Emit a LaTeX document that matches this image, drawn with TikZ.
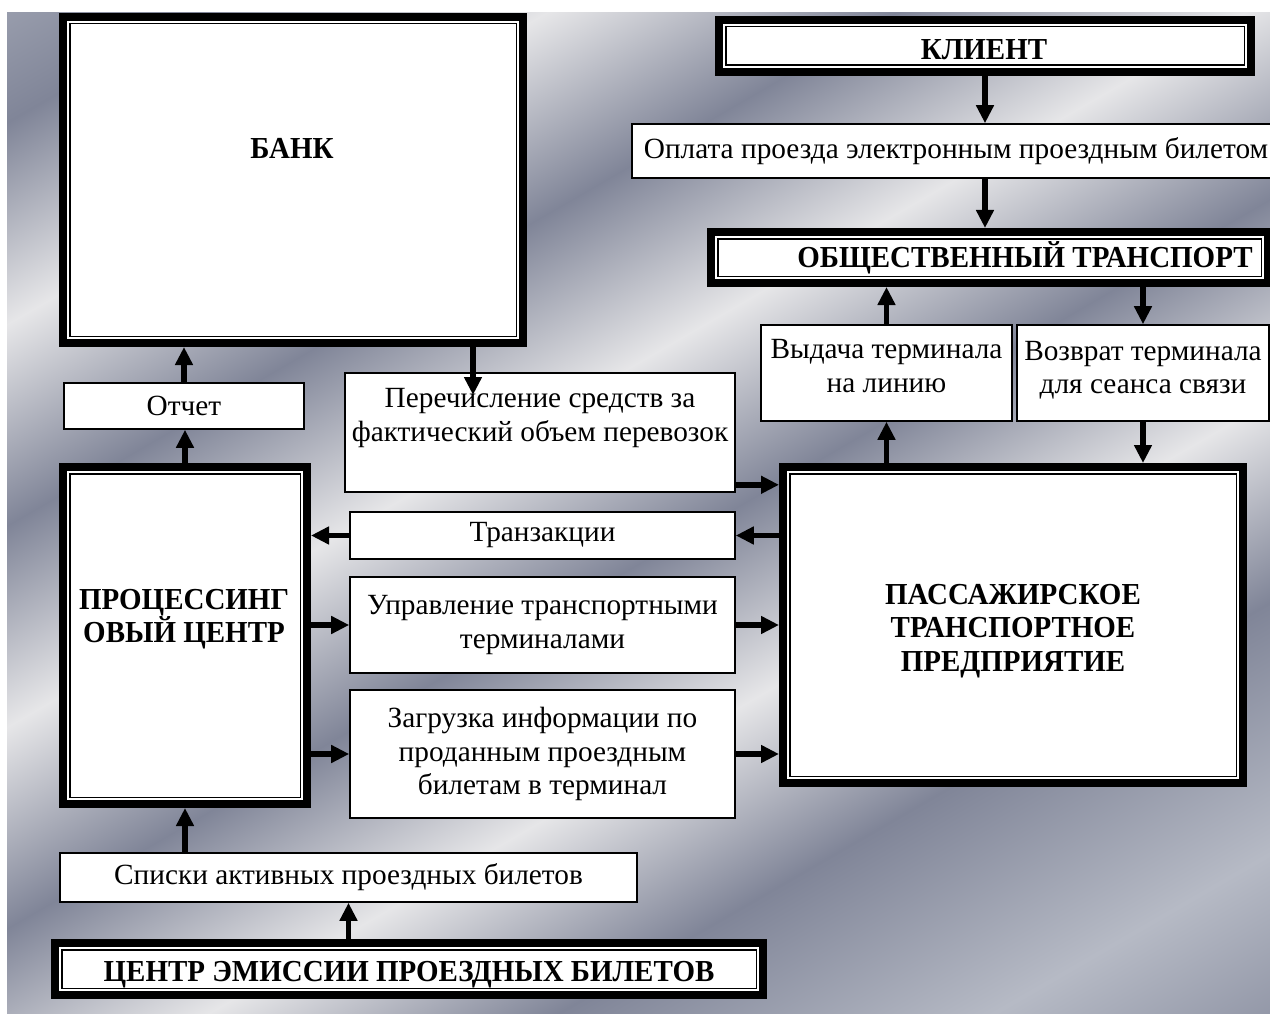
\documentclass[tikz,border=0pt]{standalone}
\usepackage{fontspec}
\setmainfont{Liberation Serif}
\newfontfamily\hdfont[FakeStretch=0.95]{Liberation Serif}
\usetikzlibrary{arrows.meta}
\definecolor{bgD}{RGB}{128,133,152}
\definecolor{bgL}{RGB}{230,230,232}
\definecolor{bgM}{RGB}{182,186,197}
\pgfdeclarehorizontalshading{metal}{100bp}{color(0bp)=(white); color(10bp)=(bgM); color(20bp)=(bgD); color(28bp)=(bgL); color(36bp)=(bgD); color(44bp)=(bgL); color(52bp)=(bgD); color(60bp)=(bgL); color(68bp)=(bgD); color(78bp)=(bgM); color(88bp)=(bgD); color(100bp)=(white)}
\begin{document}
\begin{tikzpicture}[x=1pt,y=-1pt,
  dbl/.style={draw=black, line width=8pt, fill=white, inner sep=0pt, outer sep=4pt},
  tbox/.style={draw=black, line width=1.6pt, fill=white, inner sep=0pt, align=center, font=\fontsize{29.3}{33.5}\selectfont},
  txt/.style={align=center, inner sep=0pt, font=\fontsize{29.3}{33.5}\selectfont},
  ttl/.style={align=center, inner sep=0pt, font=\hdfont\fontsize{30.5}{33.5}\selectfont\bfseries},
  innerline/.style={draw=black, line width=1.5pt},
  arr/.style={line width=5.5pt, -{Triangle[length=18pt,width=17pt]}}]
\useasboundingbox (0,0) rectangle (1270,1014);
\clip (0,0) rectangle (1270,1014);
\shade[shading=metal, shading angle=-60] (7,13) rectangle (1270,1014);

\node[dbl, minimum width=460pt, minimum height=326pt] (bank) at (293,180) {};
\node[ttl, anchor=base] (bankT) at (292,159) {БАНК};
\node[dbl, minimum width=532pt, minimum height=52pt] (client) at (985,46) {};
\node[ttl, anchor=base] (clientT) at (984,60) {КЛИЕНТ};
\node[tbox, minimum width=648pt, minimum height=54pt] (pay) at (956,151) {Оплата проезда электронным проездным билетом};
\node[dbl, minimum width=557pt, minimum height=51pt] (ot) at (989.5,257.5) {};
\node[ttl, anchor=base] (otT) at (1025,267) {ОБЩЕСТВЕННЫЙ ТРАНСПОРТ};
\node[tbox, minimum width=251pt, minimum height=96pt] (vyd) at (886.5,373) {};
\node[txt] (vydT) at (886.5,366) {Выдача терминала\\на линию};
\node[tbox, minimum width=252pt, minimum height=96pt] (voz) at (1143,373) {};
\node[txt] (vozT) at (1143,370) {Возврат терминала\\для сеанса связи};
\node[dbl, minimum width=460pt, minimum height=316pt] (ptp) at (1013,625) {};
\node[ttl] (ptpT) at (1013,631) {ПАССАЖИРСКОЕ\\ТРАНСПОРТНОЕ\\ПРЕДПРИЯТИЕ};
\node[tbox, minimum width=390pt, minimum height=119pt] (per) at (540,432.5) {};
\node[txt] (perT) at (540,418) {Перечисление средств за\\фактический объем перевозок};
\node[tbox, minimum width=385pt, minimum height=47pt] (trans) at (542.5,535.5) {Транзакции};
\node[tbox, minimum width=385pt, minimum height=96pt] (upr) at (542.5,625) {Управление транспортными\\терминалами};
\node[tbox, minimum width=385pt, minimum height=128pt] (zagr) at (542.5,754) {Загрузка информации по\\проданным проездным\\билетам в терминал};
\node[tbox, minimum width=240pt, minimum height=46pt] (otchet) at (184,406) {Отчет};
\node[dbl, minimum width=244pt, minimum height=337pt] (pc) at (185,635.5) {};
\node[ttl] (pcT) at (184,619) {ПРОЦЕССИНГ\\ОВЫЙ ЦЕНТР};
\node[tbox, minimum width=577pt, minimum height=49pt] (spiski) at (348.5,877.5) {Списки активных проездных билетов};
\node[dbl, minimum width=708pt, minimum height=52pt] (ce) at (409,969) {};
\node[ttl, anchor=base] (ceT) at (409,981) {ЦЕНТР ЭМИССИИ ПРОЕЗДНЫХ БИЛЕТОВ};

\foreach \n in {bank,client,ot,ptp,pc,ce}
  \draw[innerline] ([shift={(10.75,10.75)}]\n.north west) rectangle ([shift={(-10.75,-10.75)}]\n.south east);

\coordinate (perTip) at (473,395);
\coordinate (perOut) at ([yshift=8pt]per.south east);
\draw[arr] (perTip |- bank.south) -- (perTip);
\draw[arr] (client.south) -- (client.south |- pay.north);
\draw[arr] (client.south |- pay.south) -- (client.south |- ot.north);
\draw[arr] (vyd.north) -- (vyd.north |- ot.south);
\draw[arr] (vyd.south |- ptp.north) -- (vyd.south);
\draw[arr] (voz.north |- ot.south) -- (voz.north);
\draw[arr] (voz.south) -- (voz.south |- ptp.north);
\draw[arr] (perOut) -- (perOut -| ptp.west);
\draw[arr] (trans.east -| ptp.west) -- (trans.east);
\draw[arr] (trans.west) -- (trans.west -| pc.east);
\draw[arr] (upr.west -| pc.east) -- (upr.west);
\draw[arr] (upr.east) -- (upr.east -| ptp.west);
\draw[arr] (zagr.west -| pc.east) -- (zagr.west);
\draw[arr] (zagr.east) -- (zagr.east -| ptp.west);
\draw[arr] (otchet.north) -- (otchet.north |- bank.south);
\draw[arr] (pc.north) -- (pc.north |- otchet.south);
\draw[arr] (pc.south |- spiski.north) -- (pc.south);
\draw[arr] (spiski.south |- ce.north) -- (spiski.south);
\end{tikzpicture}
\end{document}
